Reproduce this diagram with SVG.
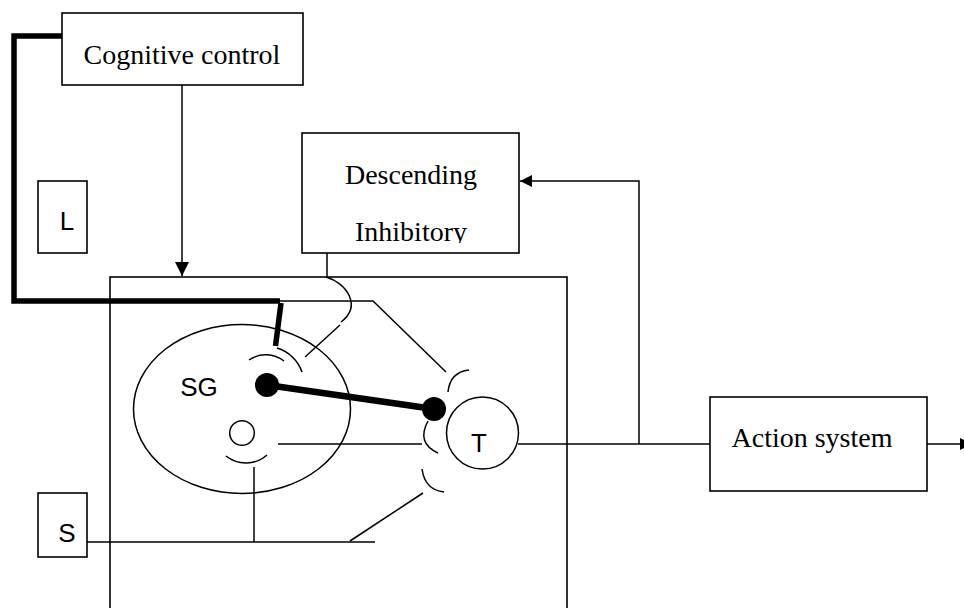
<svg xmlns="http://www.w3.org/2000/svg" width="964" height="608" viewBox="0 0 964 608">
<style>
.box{fill:#fff;stroke:#000;stroke-width:1.6}
.ln{fill:none;stroke:#000;stroke-width:1.5}
.thick{fill:none;stroke:#000;stroke-width:5.5;stroke-linejoin:miter}
.serif{font-family:"Liberation Serif","Times New Roman",serif;font-size:28px;fill:#000;text-anchor:middle}
.sans{font-family:"Liberation Sans",Arial,sans-serif;font-size:26px;fill:#000;text-anchor:middle}
</style>
<defs>
<marker id="ah" viewBox="0 0 10 10" refX="10" refY="5" markerWidth="13" markerHeight="12" markerUnits="userSpaceOnUse" orient="auto">
<path d="M0,0 L10,5 L0,10 Z" fill="#000"/>
</marker>
<marker id="ah2" viewBox="0 0 10 10" refX="10" refY="5" markerWidth="14" markerHeight="14" markerUnits="userSpaceOnUse" orient="auto">
<path d="M0,0 L10,5 L0,10 Z" fill="#000"/>
</marker>
<clipPath id="clipDI"><rect x="302" y="133" width="217" height="110"/></clipPath>
</defs>

<g id="main-box">
<rect class="box" x="110" y="277" width="457" height="340" fill="none"/>
</g>

<g id="cognitive-control">
<rect class="box" x="62" y="13" width="241" height="72"/>
<text class="serif" x="182" y="64">Cognitive control</text>
</g>

<g id="L">
<rect class="box" x="38" y="181" width="49" height="72"/>
<text class="sans" x="67" y="230">L</text>
</g>

<g id="descending-inhibitory">
<rect class="box" x="302" y="133" width="217" height="120"/>
<g clip-path="url(#clipDI)">
<text class="serif" x="411" y="184">Descending</text>
<text class="serif" x="411" y="241">Inhibitory</text>
</g>
</g>

<g id="S">
<rect class="box" x="38" y="493" width="49" height="64"/>
<text class="sans" x="67" y="542">S</text>
</g>

<g id="action-system">
<rect class="box" x="710" y="397" width="217" height="94"/>
<text class="serif" x="812" y="447">Action system</text>
</g>

<g id="SG">
<ellipse class="ln" cx="242" cy="409" rx="108.5" ry="84.5"/>
<text class="sans" x="199" y="396">SG</text>
<circle cx="267" cy="385" r="12" fill="#000"/>
<circle class="ln" cx="242" cy="433" r="12.3"/>
</g>

<g id="T">
<circle class="ln" cx="482.5" cy="433" r="36"/>
<text class="sans" x="479" y="452">T</text>
<circle cx="434" cy="409" r="12" fill="#000"/>
</g>

<g id="connectors">
<line class="ln" x1="182" y1="85" x2="182" y2="276" marker-end="url(#ah2)"/>
<polyline class="thick" points="62,36 14,36 14,301 280,301"/>
<line class="thick" x1="281" y1="303" x2="275.5" y2="346"/>
<line x1="267" y1="385" x2="434" y2="409" stroke="#000" stroke-width="6.5"/>
<polyline class="ln" points="278,301 373,301 446,372"/>
<line class="ln" x1="327" y1="253" x2="327" y2="277"/>
<path class="ln" d="M326,277 C347,283 362,306 341,322"/>
<line class="ln" x1="340" y1="325" x2="305" y2="357"/>
<path class="ln" d="M249,360 A30,30 0 0 1 284,361"/>
<path class="ln" d="M277,348 A38,38 0 0 1 302,372"/>
<path class="ln" d="M226,456 A32,32 0 0 0 267,455"/>
<line class="ln" x1="254" y1="467" x2="254" y2="542"/>
<line class="ln" x1="87" y1="542" x2="375" y2="542"/>
<line class="ln" x1="350" y1="541" x2="423" y2="493"/>
<line class="ln" x1="278" y1="444" x2="422" y2="444"/>
<path class="ln" d="M448,392 Q450,372 469,370"/>
<path class="ln" d="M428,421 Q416,443 438,453"/>
<path class="ln" d="M422,469 Q425,490 444,492"/>
<line class="ln" x1="518" y1="444" x2="710" y2="444"/>
<polyline class="ln" points="639,444 639,181 520,181" marker-end="url(#ah)"/>
<line class="ln" x1="927" y1="444" x2="972" y2="444" marker-end="url(#ah)"/>
</g>
</svg>
